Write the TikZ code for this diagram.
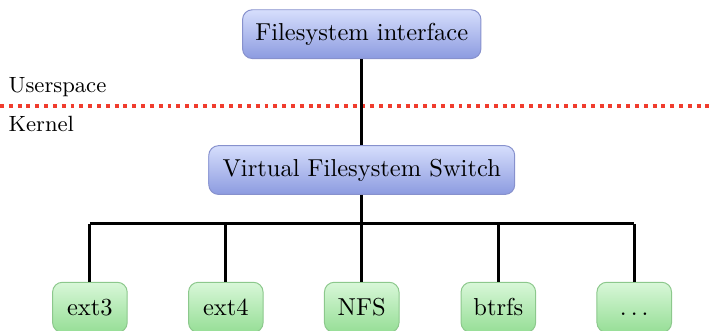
\documentclass[tikz,border=0pt]{standalone}
\usepackage{xcolor}
\usepackage{tikz}
\usetikzlibrary{positioning,calc}

\definecolor{vfsTop}{RGB}{214,222,252}
\definecolor{vfsBottom}{RGB}{140,155,224}
\definecolor{vfsLine}{RGB}{135,145,205}
\definecolor{fsTop}{RGB}{216,247,216}
\definecolor{fsBottom}{RGB}{150,222,150}
\definecolor{fsLine}{RGB}{140,200,140}
\definecolor{splitRed}{RGB}{240,60,45}

\tikzset{
    layerbox/.style={draw=vfsLine, rounded corners=4pt, top color=vfsTop, bottom color=vfsBottom,
        minimum height=0.70cm, inner sep=3pt},
    fsbox/.style={draw=fsLine, rounded corners=4pt, top color=fsTop, bottom color=fsBottom,
        minimum width=1.07cm, minimum height=0.72cm, inner sep=2pt},
    bus/.style={line width=1.2pt},
    spacelabel/.style={font=\small, anchor=base west, inner sep=0pt}
}

\begin{document}
\begin{tikzpicture}
    \useasboundingbox (0,0) rectangle (10.23,-4.735);

    % Upper layers
    \node[layerbox, minimum width=3.42cm] (iface) at (5.19,-0.49) {Filesystem interface};
    \node[layerbox, minimum width=4.39cm] (vfs) at (5.19,-2.44) {Virtual Filesystem Switch};

    % Userspace / kernel split
    \coordinate (splitL) at (0,-1.518);
    \coordinate (splitR) at (10.23,-1.518);
    \draw[splitRed, line width=1.6pt, dotted] (splitL) -- (splitR);
    \node[spacelabel] (user) at (0.115,-1.33) {Userspace};
    \node[spacelabel] (kern) at (0.115,-1.89) {Kernel};

    % Filesystems
    \node[fsbox] (ext3) at (1.29,-4.41) {ext3};
    \node[fsbox] (ext4) at (3.24,-4.41) {ext4};
    \node[fsbox] (nfs) at (5.19,-4.41) {NFS};
    \node[fsbox] (btrfs) at (7.15,-4.41) {btrfs};
    \node[fsbox] (more) at (9.10,-4.41) {\vphantom{b}$\ldots$};

    % Connections
    \draw[bus] (iface) -- (vfs);
    \coordinate (hub) at ($(vfs.south)+(0,-0.41)$);
    \draw[bus] (vfs) -- (hub);
    \foreach \fs in {ext3,ext4,nfs,btrfs,more}
        \draw[bus] (\fs.north) -- (\fs.north |- hub);
    \draw[bus] (ext3.north |- hub) -- (more.north |- hub);
\end{tikzpicture}
\end{document}
